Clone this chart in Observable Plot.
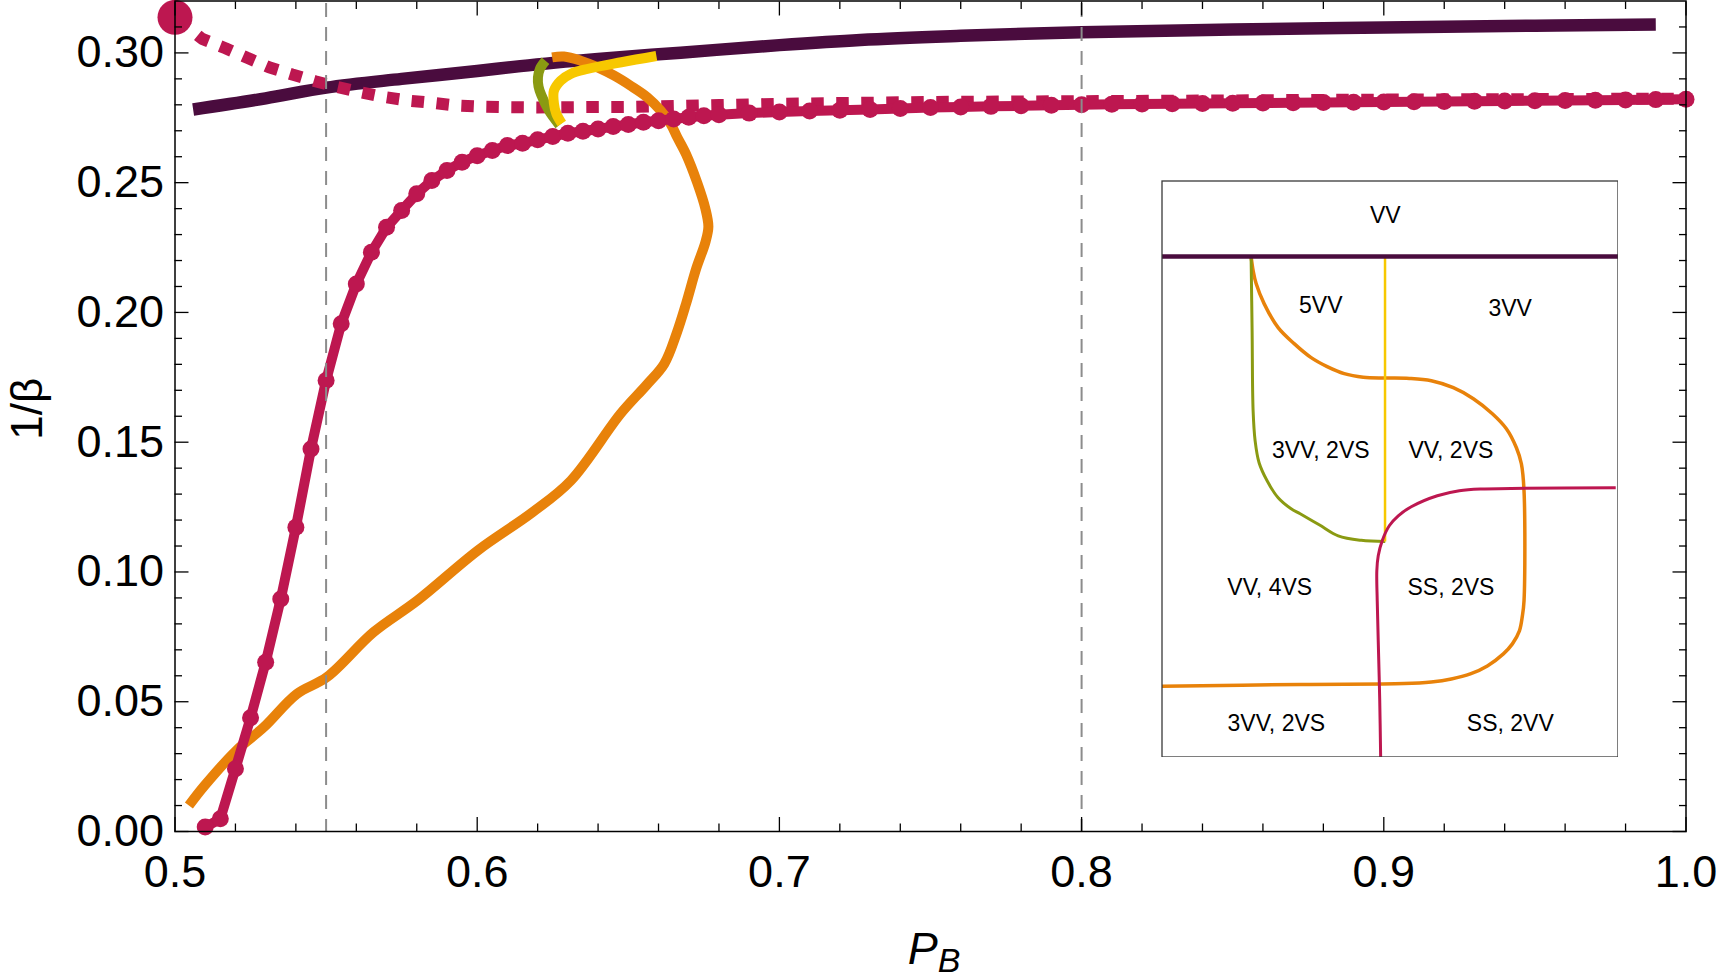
<!DOCTYPE html>
<html>
<head>
<meta charset="utf-8">
<script src="https://cdn.jsdelivr.net/npm/d3@7"></script>
<script src="https://cdn.jsdelivr.net/npm/@observablehq/plot@0.6"></script>
<style>
  html, body { margin: 0; padding: 0; background: #fff; }
  #chart { position: relative; width: 1721px; height: 979px; overflow: hidden; }
  #inset { position: absolute; left: 1160.5px; top: 180px; }
</style>
</head>
<body>
<div id="chart"><div id="inset"></div></div>
<script>
// ---- phase boundaries in the (P_B, 1/beta) plane ----
// VV boundary (dark)
const vvBoundary = [
  [0.506, 0.2782], [0.530, 0.2825], [0.550, 0.2866], [0.575, 0.2900], [0.600, 0.2930],
  [0.6143, 0.2949], [0.640, 0.2977], [0.6673, 0.3001], [0.700, 0.3030], [0.7268, 0.3050],
  [0.760, 0.3066], [0.800, 0.3080], [0.850, 0.3090], [0.900, 0.3098], [0.950, 0.3105],
  [0.990, 0.3109]
];
// Orange loop
const orangeLoop = [
  [0.5046, 0.0100], [0.5098, 0.0177], [0.5203, 0.0312], [0.5294, 0.0402], [0.5403, 0.0530],
  [0.5503, 0.0595], [0.5657, 0.0768], [0.5802, 0.0890], [0.6002, 0.1083], [0.6183, 0.1230],
  [0.6310, 0.1352], [0.6474, 0.1609], [0.6560, 0.1720], [0.6619, 0.1802], [0.6660, 0.1920],
  [0.6691, 0.2033], [0.6725, 0.2170], [0.6755, 0.2270], [0.6765, 0.2330], [0.6755, 0.2400],
  [0.6728, 0.2500], [0.6691, 0.2610], [0.6662, 0.2675], [0.6640, 0.2727],
  [0.6607, 0.2778], [0.6563, 0.2829], [0.6507, 0.2874], [0.6452, 0.2913], [0.6397, 0.2945],
  [0.6342, 0.2970], [0.6287, 0.2986], [0.6248, 0.2983]
];
// Green arc
const greenArc = [
  [0.6226, 0.2970], [0.6208, 0.2940], [0.6201, 0.2906], [0.6203, 0.2870],
  [0.6212, 0.2838], [0.6237, 0.2778], [0.6272, 0.2722]
];
// Yellow arc
const yellowArc = [
  [0.6280, 0.2728], [0.6262, 0.2765], [0.6254, 0.2804], [0.6254, 0.2855], [0.6276, 0.2893],
  [0.6309, 0.2919], [0.6364, 0.2938], [0.6477, 0.2964], [0.6593, 0.2988]
];
// SS boundary (solid with sample markers)
const ssBoundary = [
  [0.510, 0.0017], [0.515, 0.0049], [0.520, 0.0242], [0.525, 0.0438], [0.530, 0.0652],
  [0.535, 0.0896], [0.540, 0.1172], [0.545, 0.1474], [0.550, 0.1738], [0.555, 0.1956],
  [0.560, 0.2110], [0.565, 0.2232], [0.570, 0.2328], [0.575, 0.2393], [0.580, 0.2457],
  [0.585, 0.2508], [0.590, 0.2547], [0.595, 0.2579], [0.600, 0.2604], [0.605, 0.2624],
  [0.610, 0.2643], [0.615, 0.2652], [0.620, 0.2665], [0.625, 0.2678], [0.630, 0.2690],
  [0.635, 0.2698], [0.640, 0.2707], [0.645, 0.2716], [0.650, 0.2724], [0.655, 0.2733],
  [0.660, 0.2739], [0.665, 0.2745], [0.670, 0.2752], [0.675, 0.2758], [0.680, 0.2762],
  [0.69, 0.2768], [0.70, 0.2772], [0.71, 0.2776], [0.72, 0.2779], [0.73, 0.2782],
  [0.74, 0.2786], [0.75, 0.2790], [0.76, 0.2792], [0.77, 0.2794], [0.78, 0.2796],
  [0.79, 0.2798], [0.80, 0.2800], [0.81, 0.2802], [0.82, 0.2803], [0.83, 0.2804],
  [0.84, 0.2805], [0.85, 0.2806], [0.86, 0.2807], [0.87, 0.2808], [0.88, 0.2809],
  [0.89, 0.2810], [0.90, 0.2811], [0.91, 0.2812], [0.92, 0.2813], [0.93, 0.2814],
  [0.94, 0.2815], [0.95, 0.2816], [0.96, 0.2817], [0.97, 0.2818], [0.98, 0.2819],
  [0.99, 0.2820], [1.00, 0.2821]
];
// Dotted SS branch starting from the end point at P_B = 0.5
const ssDotted = [
  [0.500, 0.3137], [0.509, 0.3054], [0.5167, 0.3018], [0.5239, 0.2981], [0.5311, 0.2945],
  [0.5388, 0.2917], [0.5464, 0.2891], [0.5539, 0.2868], [0.5616, 0.2848], [0.5698, 0.2829],
  [0.5774, 0.2816], [0.5856, 0.2807], [0.5932, 0.2797], [0.6008, 0.2793], [0.6090, 0.2791],
  [0.620, 0.2790], [0.633, 0.2791], [0.650, 0.2792], [0.660, 0.2794], [0.680, 0.2799],
  [0.700, 0.2804], [0.750, 0.2811], [0.800, 0.2814], [0.850, 0.2817], [0.900, 0.2820],
  [0.950, 0.2822], [1.000, 0.2824]
];
const endPoint = [[0.5, 0.3137]];
// Reference P_B values (dashed verticals)
const markerPB = [0.55, 0.8];

// Axis ticks
const xMajor = [0.5, 0.6, 0.7, 0.8, 0.9, 1.0];
const xMinor = [0.52, 0.54, 0.56, 0.58, 0.62, 0.64, 0.66, 0.68, 0.72, 0.74, 0.76, 0.78,
                0.82, 0.84, 0.86, 0.88, 0.92, 0.94, 0.96, 0.98];
const yMajor = [0.00, 0.05, 0.10, 0.15, 0.20, 0.25, 0.30];
const yMinor = [0.01, 0.02, 0.03, 0.04, 0.06, 0.07, 0.08, 0.09, 0.11, 0.12, 0.13, 0.14,
                0.16, 0.17, 0.18, 0.19, 0.21, 0.22, 0.23, 0.24, 0.26, 0.27, 0.28, 0.29, 0.31];

// ---- schematic (inset) in unit coordinates, y measured downward ----
const insetVV = [[0, 0.131], [1, 0.131]];
const insetGreen = [
  [0.1954, 0.1312], [0.1976, 0.2598], [0.1998, 0.3988], [0.2042, 0.4509], [0.2129, 0.4891],
  [0.2305, 0.5204], [0.2547, 0.5500], [0.2832, 0.5691], [0.3030, 0.5778], [0.3447, 0.5969],
  [0.3864, 0.6160], [0.4369, 0.6238], [0.4896, 0.6259]
];
const insetYellow = [[0.4891, 0.1312], [0.4891, 0.6259]];
const insetOrange = [
  [0.1954, 0.1312], [0.1998, 0.1555], [0.2064, 0.1781], [0.2239, 0.2129], [0.2547, 0.2546],
  [0.2898, 0.2824], [0.3271, 0.3067], [0.3622, 0.3223], [0.3996, 0.3345], [0.4413, 0.3406],
  [0.4896, 0.3420], [0.5423, 0.3427], [0.5906, 0.3467], [0.6389, 0.3588], [0.6828, 0.3779],
  [0.7245, 0.4040], [0.7552, 0.4301], [0.7772, 0.4631], [0.7881, 0.4909], [0.7939, 0.5378],
  [0.7939, 0.7289], [0.7903, 0.7550], [0.7838, 0.7811], [0.7684, 0.8036], [0.7486, 0.8210],
  [0.7135, 0.8419], [0.6762, 0.8558], [0.6345, 0.8645], [0.5906, 0.8697], [0.5313, 0.8726],
  [0.3052, 0.8740], [0.0000, 0.8771]
];
const insetPink = [
  [0.4795, 1.0000], [0.4775, 0.9027], [0.4742, 0.7984], [0.4720, 0.7289], [0.4711, 0.6768],
  [0.4742, 0.6508], [0.4829, 0.6247], [0.4984, 0.5986], [0.5181, 0.5813], [0.5466, 0.5656],
  [0.6037, 0.5465], [0.6520, 0.5378], [0.7003, 0.5348], [0.9950, 0.5326]
];
const insetLabels = ["VV", "5VV", "3VV", "3VV, 2VS", "VV, 2VS", "VV, 4VS", "SS, 2VS", "3VV, 2VS", "SS, 2VV"];
const insetLabelX = [0.4896, 0.3482, 0.7636, 0.3482, 0.6336, 0.2362, 0.6336, 0.2507, 0.7638];
const insetLabelY = [0.0599, 0.2163, 0.2221, 0.4683, 0.4683, 0.7058, 0.7058, 0.9421, 0.9421];

// ---- styling ----
const DARK = "#4a0c3e", PINK = "#bd1750", ORANGE = "#e8820a", YELLOW = "#f7c800", GREEN = "#8a9a12", GRID = "#8c8c8c";
const FONT = "'Liberation Sans', Arial, Helvetica, sans-serif";
const px = d => d[0], py = d => d[1];
const lineOpts = (stroke, w, extra = {}) => ({x: px, y: py, stroke, strokeWidth: w, strokeLinecap: "butt", strokeLinejoin: "round", ...extra});

const W = 1721, H = 979;
const mL = 174.5, mR = 35.5, mT = 0.5, mB = 148;

const main = Plot.plot({
  width: W, height: H,
  marginLeft: mL, marginRight: mR, marginTop: mT, marginBottom: mB,
  x: {domain: [0.5, 1.0]},
  y: {domain: [0, 0.32]},
  style: {fontFamily: FONT, background: "white", color: "black", overflow: "visible"},
  marks: [
    Plot.line(vvBoundary, lineOpts(DARK, 12.5, {curve: "monotone-x"})),
    Plot.line(ssDotted, lineOpts(PINK, 12, {strokeDasharray: "12.5,12.5", strokeDashoffset: -4, strokeLinejoin: "miter"})),
    Plot.line(orangeLoop, lineOpts(ORANGE, 10, {curve: "catmull-rom"})),
    Plot.line(ssBoundary, lineOpts(PINK, 10)),
    Plot.dot(ssBoundary, {x: px, y: py, r: 8.5, fill: PINK}),
    Plot.line(greenArc, lineOpts(GREEN, 10, {curve: "catmull-rom"})),
    Plot.line(yellowArc, lineOpts(YELLOW, 10, {curve: "catmull-rom"})),
    Plot.ruleX(markerPB, {x: d => d, stroke: GRID, strokeWidth: 2, strokeDasharray: "14,10", strokeDashoffset: -2.5}),
    Plot.dot(endPoint, {x: px, y: py, r: 17.5, fill: PINK}),
    Plot.frame({stroke: "black", strokeWidth: 1.5}),
    // inward ticks on all four sides
    Plot.axisX(xMajor, {anchor: "bottom", tickSize: -14, strokeWidth: 1.3, fill: "none"}),
    Plot.axisX(xMinor, {anchor: "bottom", tickSize: -7.5, strokeWidth: 1.3, fill: "none"}),
    Plot.axisX(xMajor, {anchor: "top", tickSize: -14, strokeWidth: 1.3, fill: "none"}),
    Plot.axisX(xMinor, {anchor: "top", tickSize: -7.5, strokeWidth: 1.3, fill: "none"}),
    Plot.axisY(yMajor, {anchor: "left", tickSize: -14, strokeWidth: 1.3, fill: "none"}),
    Plot.axisY(yMinor, {anchor: "left", tickSize: -7.5, strokeWidth: 1.3, fill: "none"}),
    Plot.axisY(yMajor, {anchor: "right", tickSize: -14, strokeWidth: 1.3, fill: "none"}),
    Plot.axisY(yMinor, {anchor: "right", tickSize: -7.5, strokeWidth: 1.3, fill: "none"}),
    // tick labels
    Plot.axisX(xMajor, {anchor: "bottom", tickSize: 0, tickPadding: 24, fontSize: 45, tickFormat: d3.format(".1f"), label: null}),
    Plot.axisY(yMajor, {anchor: "left", tickSize: 0, tickPadding: 11, fontSize: 45, tickFormat: d3.format(".2f"), label: null})
  ]
});

const chart = document.getElementById("chart");
chart.insertBefore(main, chart.firstChild);

// axis titles
const svg = d3.select(main);
svg.append("text")
  .attr("transform", `translate(42, ${(mT + H - mB) / 2 - 7}) rotate(-90)`)
  .attr("text-anchor", "middle")
  .attr("font-family", FONT)
  .attr("font-size", 44)
  .attr("fill", "black")
  .text("1/β");
const xt = svg.append("text")
  .attr("x", (mL + W - mR) / 2 + 4)
  .attr("y", 964)
  .attr("text-anchor", "middle")
  .attr("font-family", FONT)
  .attr("fill", "black");
xt.append("tspan").attr("font-size", 45).attr("font-style", "italic").text("P");
xt.append("tspan").attr("font-size", 34).attr("font-style", "italic").attr("dy", 8).text("B");

// schematic inset
const inset = Plot.plot({
  width: 457, height: 577, margin: 0.5,
  x: {domain: [0, 1], axis: null},
  y: {domain: [0, 1], reverse: true, axis: null},
  style: {fontFamily: FONT, background: "white", color: "black"},
  marks: [
    Plot.line(insetOrange, lineOpts(ORANGE, 3.5, {curve: "catmull-rom"})),
    Plot.line(insetGreen, lineOpts(GREEN, 3, {curve: "catmull-rom"})),
    Plot.line(insetYellow, lineOpts(YELLOW, 2.5)),
    Plot.line(insetPink, lineOpts(PINK, 3, {curve: "catmull-rom"})),
    Plot.line(insetVV, lineOpts(DARK, 4.5)),
    Plot.text(insetLabels, {x: (d, i) => insetLabelX[i], y: (d, i) => insetLabelY[i], text: d => d,
      fontSize: 23, textAnchor: "middle", lineAnchor: "middle", fill: "black"}),
    Plot.frame({stroke: "#3a3a3a", strokeWidth: 1.3})
  ]
});
document.getElementById("inset").appendChild(inset);
</script>
</body>
</html>
